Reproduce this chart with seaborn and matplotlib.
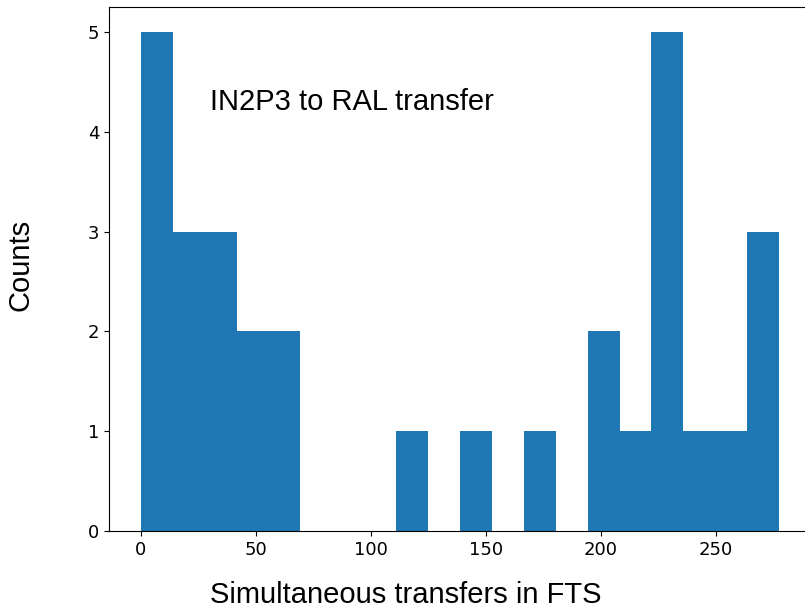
import numpy as np
import matplotlib
matplotlib.use("Agg")
import matplotlib.pyplot as plt
import seaborn as sns

transfers = [0, 3, 6, 9, 12,
             16, 20, 25,
             30, 35, 40,
             45, 52,
             58, 65,
             118, 145, 172,
             198, 205, 215,
             224, 227, 230, 232, 234,
             242, 256,
             266, 271, 277.4]
n_bins = 20

fig = plt.figure(figsize=(8.05, 6.1), dpi=100)
ax = fig.add_axes([0.1354, 0.1295, 0.872, 0.859])

sns.histplot(x=transfers, bins=n_bins, color="#1f77b4", alpha=1,
             linewidth=0, ax=ax)

ax.set_ylim(0, 5.25)
ax.spines["right"].set_visible(False)
ax.tick_params(labelsize=13)
ax.set_xlabel("Simultaneous transfers in FTS", fontsize=21,
              family="Liberation Sans")
ax.set_ylabel("Counts", fontsize=21, family="Liberation Sans")
ax.xaxis.set_label_coords(0.423, -0.096)
ax.yaxis.set_label_coords(-0.106, 0.508)
ax.text(30, 4.3, "IN2P3 to RAL transfer", fontsize=21,
        family="Liberation Sans", va="center")

fig.savefig("out.png", dpi=100)
